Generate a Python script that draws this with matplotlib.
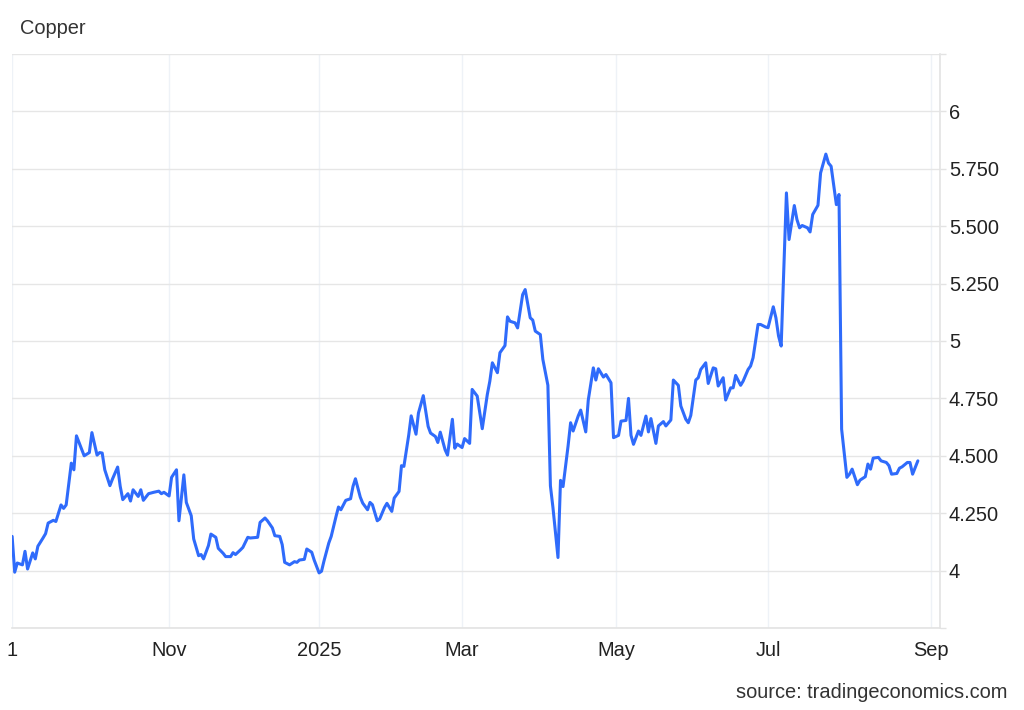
import matplotlib
matplotlib.use("Agg")
import matplotlib.pyplot as plt
import matplotlib.dates as mdates
import pandas as pd
import numpy as np

plt.rcParams['font.family'] = ['Liberation Sans', 'DejaVu Sans']

# ---- data ----
dates = [
    "2024-09-01", "2024-09-02", "2024-09-03", "2024-09-05", "2024-09-06", "2024-09-07", "2024-09-09",
    "2024-09-10", "2024-09-11", "2024-09-13", "2024-09-14", "2024-09-15", "2024-09-17", "2024-09-18",
    "2024-09-20", "2024-09-21", "2024-09-22", "2024-09-24", "2024-09-25", "2024-09-26", "2024-09-28",
    "2024-09-29", "2024-10-01", "2024-10-02", "2024-10-04", "2024-10-05", "2024-10-06", "2024-10-07",
    "2024-10-09", "2024-10-10", "2024-10-12", "2024-10-13", "2024-10-14", "2024-10-16", "2024-10-17",
    "2024-10-18", "2024-10-20", "2024-10-21", "2024-10-22", "2024-10-24", "2024-10-26", "2024-10-28",
    "2024-10-29", "2024-10-30", "2024-11-01",
    "2024-11-02", "2024-11-04", "2024-11-05", "2024-11-07", "2024-11-08", "2024-11-10", "2024-11-11",
    "2024-11-13", "2024-11-14", "2024-11-15", "2024-11-17", "2024-11-18", "2024-11-20", "2024-11-21",
    "2024-11-23", "2024-11-24", "2024-11-26", "2024-11-27", "2024-11-28", "2024-11-30", "2024-12-01",
    "2024-12-03", "2024-12-04", "2024-12-07", "2024-12-08", "2024-12-10", "2024-12-11", "2024-12-13",
    "2024-12-14", "2024-12-16", "2024-12-17", "2024-12-18", "2024-12-20", "2024-12-22", "2024-12-23",
    "2024-12-24", "2024-12-26", "2024-12-27", "2024-12-29", "2024-12-30", "2025-01-01",
    "2025-01-02", "2025-01-03", "2025-01-05", "2025-01-06", "2025-01-08", "2025-01-09", "2025-01-10",
    "2025-01-12", "2025-01-14", "2025-01-15", "2025-01-16", "2025-01-18", "2025-01-19", "2025-01-21",
    "2025-01-22", "2025-01-23", "2025-01-25", "2025-01-26", "2025-01-28", "2025-01-29", "2025-01-31",
    "2025-02-01", "2025-02-03", "2025-02-04", "2025-02-05", "2025-02-07", "2025-02-08", "2025-02-10",
    "2025-02-11", "2025-02-13", "2025-02-15", "2025-02-16", "2025-02-18", "2025-02-19", "2025-02-20",
    "2025-02-22", "2025-02-23", "2025-02-25", "2025-02-26", "2025-02-27", "2025-03-01",
    "2025-03-02", "2025-03-04", "2025-03-05", "2025-03-07", "2025-03-08", "2025-03-09", "2025-03-11",
    "2025-03-12", "2025-03-13", "2025-03-15", "2025-03-16", "2025-03-18", "2025-03-19", "2025-03-20",
    "2025-03-22", "2025-03-23", "2025-03-25", "2025-03-26", "2025-03-28", "2025-03-29", "2025-03-30",
    "2025-04-01", "2025-04-02", "2025-04-04", "2025-04-05", "2025-04-06", "2025-04-08", "2025-04-09",
    "2025-04-10", "2025-04-12", "2025-04-13", "2025-04-14", "2025-04-16", "2025-04-17", "2025-04-19",
    "2025-04-20", "2025-04-22", "2025-04-23", "2025-04-24", "2025-04-26", "2025-04-27", "2025-04-29",
    "2025-04-30",
    "2025-05-02", "2025-05-03", "2025-05-05", "2025-05-06", "2025-05-07", "2025-05-08", "2025-05-10",
    "2025-05-11", "2025-05-13", "2025-05-14", "2025-05-15", "2025-05-17", "2025-05-18", "2025-05-20",
    "2025-05-21", "2025-05-23", "2025-05-24", "2025-05-26", "2025-05-27", "2025-05-29", "2025-05-30",
    "2025-05-31", "2025-06-02", "2025-06-03", "2025-06-04", "2025-06-06", "2025-06-07", "2025-06-09",
    "2025-06-10", "2025-06-11", "2025-06-13", "2025-06-14", "2025-06-16", "2025-06-17", "2025-06-18",
    "2025-06-20", "2025-06-21", "2025-06-23", "2025-06-24", "2025-06-25", "2025-06-27", "2025-06-28",
    "2025-06-30",
    "2025-07-01", "2025-07-03", "2025-07-04", "2025-07-05", "2025-07-06", "2025-07-08", "2025-07-09",
    "2025-07-11", "2025-07-12", "2025-07-13", "2025-07-14", "2025-07-16", "2025-07-17", "2025-07-18",
    "2025-07-20", "2025-07-21", "2025-07-23", "2025-07-24", "2025-07-25", "2025-07-27", "2025-07-28",
    "2025-07-29", "2025-07-31", "2025-08-01", "2025-08-02", "2025-08-04", "2025-08-05", "2025-08-07",
    "2025-08-08", "2025-08-09", "2025-08-10", "2025-08-12", "2025-08-13", "2025-08-15", "2025-08-16",
    "2025-08-17", "2025-08-19", "2025-08-20", "2025-08-21", "2025-08-23", "2025-08-24", "2025-08-25",
    "2025-08-27",
]

prices = [
    4.149, 3.993, 4.033, 4.025, 4.084, 4.007, 4.077,
    4.051, 4.106, 4.142, 4.161, 4.207, 4.219, 4.214,
    4.286, 4.271, 4.286, 4.468, 4.439, 4.587, 4.529,
    4.500, 4.514, 4.601, 4.503, 4.514, 4.512, 4.439,
    4.370, 4.399, 4.451, 4.367, 4.309, 4.335, 4.303,
    4.352, 4.323, 4.352, 4.306, 4.335, 4.341, 4.346,
    4.335, 4.341, 4.325,
    4.406, 4.439, 4.217, 4.417, 4.297, 4.239, 4.138,
    4.065, 4.070, 4.051, 4.109, 4.159, 4.145, 4.097,
    4.075, 4.061, 4.061, 4.078, 4.070, 4.090, 4.101,
    4.145, 4.142, 4.145, 4.210, 4.229, 4.217, 4.186,
    4.152, 4.149, 4.113, 4.036, 4.025, 4.039, 4.036,
    4.046, 4.049, 4.094, 4.080, 4.046, 3.990,
    3.997, 4.041, 4.120, 4.149, 4.236, 4.277, 4.265,
    4.306, 4.313, 4.367, 4.400, 4.320, 4.294, 4.265,
    4.297, 4.287, 4.217, 4.225, 4.275, 4.293, 4.258,
    4.316, 4.345, 4.457, 4.454, 4.591, 4.674, 4.594,
    4.686, 4.762, 4.628, 4.599, 4.584, 4.558, 4.603,
    4.526, 4.503, 4.659, 4.533, 4.551, 4.536,
    4.575, 4.554, 4.789, 4.760, 4.688, 4.618, 4.767,
    4.825, 4.905, 4.862, 4.949, 4.980, 5.105, 5.086,
    5.079, 5.057, 5.202, 5.224, 5.101, 5.091, 5.043,
    5.028, 4.920, 4.807, 4.369, 4.275, 4.057, 4.393,
    4.366, 4.543, 4.644, 4.608, 4.673, 4.699, 4.604,
    4.743, 4.883, 4.830, 4.879, 4.843, 4.854, 4.818,
    4.579,
    4.589, 4.651, 4.654, 4.750, 4.589, 4.550, 4.608,
    4.589, 4.673, 4.604, 4.662, 4.554, 4.630, 4.649,
    4.630, 4.656, 4.830, 4.807, 4.717, 4.659, 4.644,
    4.676, 4.830, 4.840, 4.876, 4.905, 4.815, 4.883,
    4.879, 4.804, 4.840, 4.743, 4.796, 4.796, 4.850,
    4.807, 4.825, 4.876, 4.891, 4.927, 5.072, 5.072,
    5.061,
    5.058, 5.149, 5.101, 5.022, 4.978, 5.645, 5.442,
    5.590, 5.529, 5.493, 5.503, 5.493, 5.475, 5.551,
    5.591, 5.732, 5.814, 5.775, 5.761, 5.594, 5.638,
    4.616, 4.406, 4.420, 4.442, 4.374, 4.394, 4.409,
    4.464, 4.442, 4.490, 4.493, 4.478, 4.471, 4.457,
    4.420, 4.423, 4.446, 4.452, 4.471, 4.471, 4.420,
    4.478,
]

xtick_dates = ["2024-09-01", "2024-11-01", "2025-01-01", "2025-03-01",
               "2025-05-01", "2025-07-01", "2025-09-01"]
xtick_labels = ["1", "Nov", "2025", "Mar", "May", "Jul", "Sep"]

ytick_values = [3.75, 4.0, 4.25, 4.5, 4.75, 5.0, 5.25, 5.5, 5.75, 6.0, 6.25]
ytick_labels = ["", "4", "4.250", "4.500", "4.750", "5", "5.250", "5.500",
                "5.750", "6", ""]

title = "Copper"
source = "source: tradingeconomics.com"

# ---- figure ----
W, H = 1024, 710
fig = plt.figure(figsize=(W / 100, H / 100), dpi=100)
fig.patch.set_facecolor("white")
ax = fig.add_axes([12 / W, 1 - 628 / H, 928 / W, 574 / H])

# Ordinal-like time scale: month labels are spaced as in the source chart
# (piecewise linear between the labelled month starts).
tick_nums = mdates.date2num(pd.to_datetime(xtick_dates))
tick_span = np.array([0, 157, 307, 450, 604, 756, 919], dtype=float)
anchor_nums = np.concatenate([[tick_nums[0] - 60], tick_nums, [tick_nums[-1] + 60]])
anchor_pos = np.concatenate([[tick_span[0] - 60 * 2.574], tick_span,
                             [tick_span[-1] + 60 * 2.629]])


def fwd(v):
    return np.interp(v, anchor_nums, anchor_pos)


def inv(p):
    return np.interp(p, anchor_pos, anchor_nums)


x = pd.to_datetime(dates)
ax.plot(x, prices, color="#2f6bfb", lw=2.2, solid_joinstyle="round",
        solid_capstyle="round", zorder=3)

ax.set_xscale("function", functions=(fwd, inv))
ax.set_ylim(3.75, 6.25)
ax.set_xlim(tick_nums[0] - 0.05, tick_nums[-1] + 9 / 2.629)

ax.set_xticks(tick_nums)
ax.set_xticklabels(xtick_labels)
ax.yaxis.tick_right()
ax.set_yticks(ytick_values)
ax.set_yticklabels(ytick_labels)

for s in ["left", "top"]:
    ax.spines[s].set_visible(False)
ax.spines["right"].set_color("#e3e3e3")
ax.spines["bottom"].set_color("#e3e3e3")
ax.spines["right"].set_linewidth(1.2)
ax.spines["bottom"].set_linewidth(1.2)

ax.grid(axis="y", color="#e6e6e6", lw=1.0, zorder=0)
ax.grid(axis="x", color="#eef2f7", lw=1.0, zorder=0)

ax.tick_params(axis="x", length=0, pad=9.5, labelsize=14.4, labelcolor="#222222")
ax.tick_params(axis="y", length=4.3, width=1.0, color="#e3e3e3", pad=2.0,
               labelsize=14.4, labelcolor="#222222")

fig.text(20 / W, 1 - 28 / H, title, ha="left", va="center", fontsize=14.4,
         color="#333333")
fig.text(1008 / W, 1 - 693 / H, source, ha="right", va="center", fontsize=14.4,
         color="#333333")

fig.savefig("out.png", dpi=100, facecolor="white")
